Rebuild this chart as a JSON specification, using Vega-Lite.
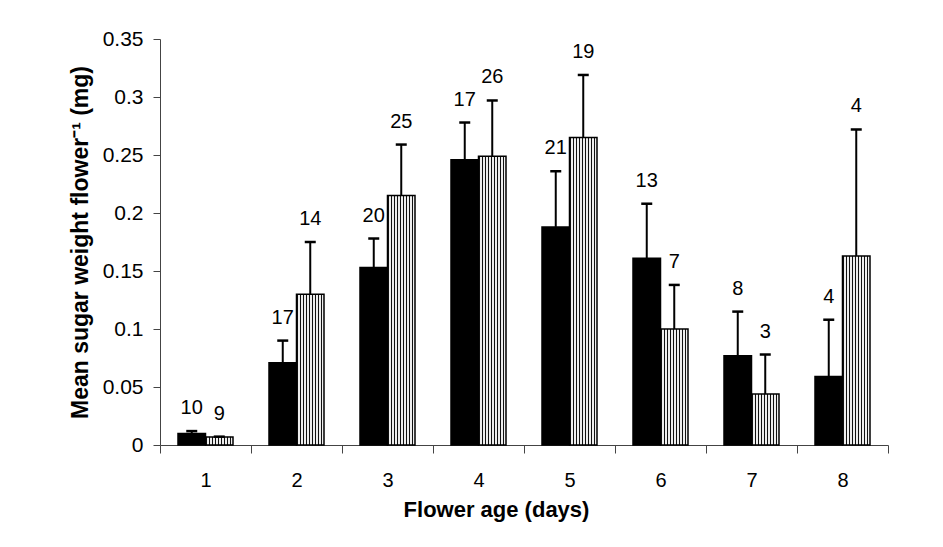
{
  "$schema": "https://vega.github.io/schema/vega-lite/v6.json",
  "width": 728,
  "height": 406,
  "autosize": {"type": "none"},
  "padding": {"left": 160, "top": 39, "right": 55, "bottom": 102},
  "background": "white",
  "config": {"view": {"stroke": null}, "font": "Liberation Sans"},
  "data": {
    "values": [
      {"day": 1, "grp": "A", "mean": 0.010, "err": 0.012, "n": 10},
      {"day": 1, "grp": "B", "mean": 0.007, "err": 0.0072, "n": 9},
      {"day": 2, "grp": "A", "mean": 0.071, "err": 0.090, "n": 17},
      {"day": 2, "grp": "B", "mean": 0.130, "err": 0.175, "n": 14},
      {"day": 3, "grp": "A", "mean": 0.153, "err": 0.178, "n": 20},
      {"day": 3, "grp": "B", "mean": 0.215, "err": 0.259, "n": 25},
      {"day": 4, "grp": "A", "mean": 0.246, "err": 0.278, "n": 17},
      {"day": 4, "grp": "B", "mean": 0.249, "err": 0.297, "n": 26},
      {"day": 5, "grp": "A", "mean": 0.188, "err": 0.236, "n": 21},
      {"day": 5, "grp": "B", "mean": 0.265, "err": 0.319, "n": 19},
      {"day": 6, "grp": "A", "mean": 0.161, "err": 0.208, "n": 13},
      {"day": 6, "grp": "B", "mean": 0.100, "err": 0.138, "n": 7},
      {"day": 7, "grp": "A", "mean": 0.077, "err": 0.115, "n": 8},
      {"day": 7, "grp": "B", "mean": 0.044, "err": 0.078, "n": 3},
      {"day": 8, "grp": "A", "mean": 0.059, "err": 0.108, "n": 4},
      {"day": 8, "grp": "B", "mean": 0.163, "err": 0.272, "n": 4}
    ]
  },
  "encoding": {
    "x": {
      "field": "day",
      "type": "ordinal",
      "scale": {"paddingInner": 0, "paddingOuter": 0},
      "axis": {
        "title": "Flower age (days)",
        "labelAngle": 0,
        "tickBand": "extent",
        "tickSize": 8,
        "labelPadding": 17,
        "labelFontSize": 20,
        "labelColor": "black",
        "titleFontSize": 22,
        "titleFontWeight": "bold",
        "titleColor": "black",
        "titlePadding": 9,
        "titleX": 336,
        "titleAlign": "center",
        "domainColor": "#444",
        "tickColor": "#444",
        "grid": false
      }
    },
    "xOffset": {"field": "grp", "type": "nominal", "scale": {"paddingInner": 0, "paddingOuter": 0.6545}}
  },
  "layer": [
    {
      "mark": {"type": "bar", "stroke": "black", "strokeWidth": 1.5},
      "encoding": {
        "y": {
          "field": "mean",
          "type": "quantitative",
          "scale": {"domain": [0, 0.35], "nice": false},
          "axis": {
            "title": "Mean sugar weight flower⁻¹ (mg)",
            "values": [0, 0.05, 0.1, 0.15, 0.2, 0.25, 0.3, 0.35],
            "format": "~g",
            "tickSize": 7,
            "labelPadding": 10,
            "labelFontSize": 21,
            "labelColor": "black",
            "titleFontSize": 23,
            "titleFontWeight": "bold",
            "titleColor": "black",
            "titlePadding": 10,
            "domainColor": "#444",
            "tickColor": "#444",
            "grid": false
          }
        },
        "fill": {
          "condition": {"test": "datum.grp === 'A'", "value": "black"},
          "value": {
            "gradient": "linear",
            "x1": 0, "y1": 0, "x2": 1, "y2": 0,
            "stops": [
              {"offset": 0.0, "color": "#111"}, {"offset": 0.055, "color": "#111"}, {"offset": 0.056, "color": "#eee"}, {"offset": 0.111, "color": "#eee"},
              {"offset": 0.112, "color": "#111"}, {"offset": 0.166, "color": "#111"}, {"offset": 0.167, "color": "#eee"}, {"offset": 0.222, "color": "#eee"},
              {"offset": 0.223, "color": "#111"}, {"offset": 0.277, "color": "#111"}, {"offset": 0.278, "color": "#eee"}, {"offset": 0.333, "color": "#eee"},
              {"offset": 0.334, "color": "#111"}, {"offset": 0.388, "color": "#111"}, {"offset": 0.389, "color": "#eee"}, {"offset": 0.444, "color": "#eee"},
              {"offset": 0.445, "color": "#111"}, {"offset": 0.499, "color": "#111"}, {"offset": 0.5, "color": "#eee"}, {"offset": 0.555, "color": "#eee"},
              {"offset": 0.556, "color": "#111"}, {"offset": 0.610, "color": "#111"}, {"offset": 0.611, "color": "#eee"}, {"offset": 0.666, "color": "#eee"},
              {"offset": 0.667, "color": "#111"}, {"offset": 0.721, "color": "#111"}, {"offset": 0.722, "color": "#eee"}, {"offset": 0.777, "color": "#eee"},
              {"offset": 0.778, "color": "#111"}, {"offset": 0.832, "color": "#111"}, {"offset": 0.833, "color": "#eee"}, {"offset": 0.888, "color": "#eee"},
              {"offset": 0.889, "color": "#111"}, {"offset": 0.943, "color": "#111"}, {"offset": 0.944, "color": "#eee"}, {"offset": 1.0, "color": "#eee"}
            ]
          }
        }
      }
    },
    {
      "mark": {"type": "rule", "color": "black", "strokeWidth": 2},
      "encoding": {
        "y": {"field": "mean", "type": "quantitative"},
        "y2": {"field": "err"}
      }
    },
    {
      "mark": {"type": "tick", "color": "black", "size": 11, "thickness": 2.5, "opacity": 1},
      "encoding": {
        "y": {"field": "err", "type": "quantitative"}
      }
    },
    {
      "mark": {"type": "text", "fontSize": 20, "baseline": "alphabetic", "align": "center", "dy": -17, "color": "black"},
      "encoding": {
        "y": {"field": "err", "type": "quantitative"},
        "text": {"field": "n", "type": "quantitative"}
      }
    }
  ]
}
